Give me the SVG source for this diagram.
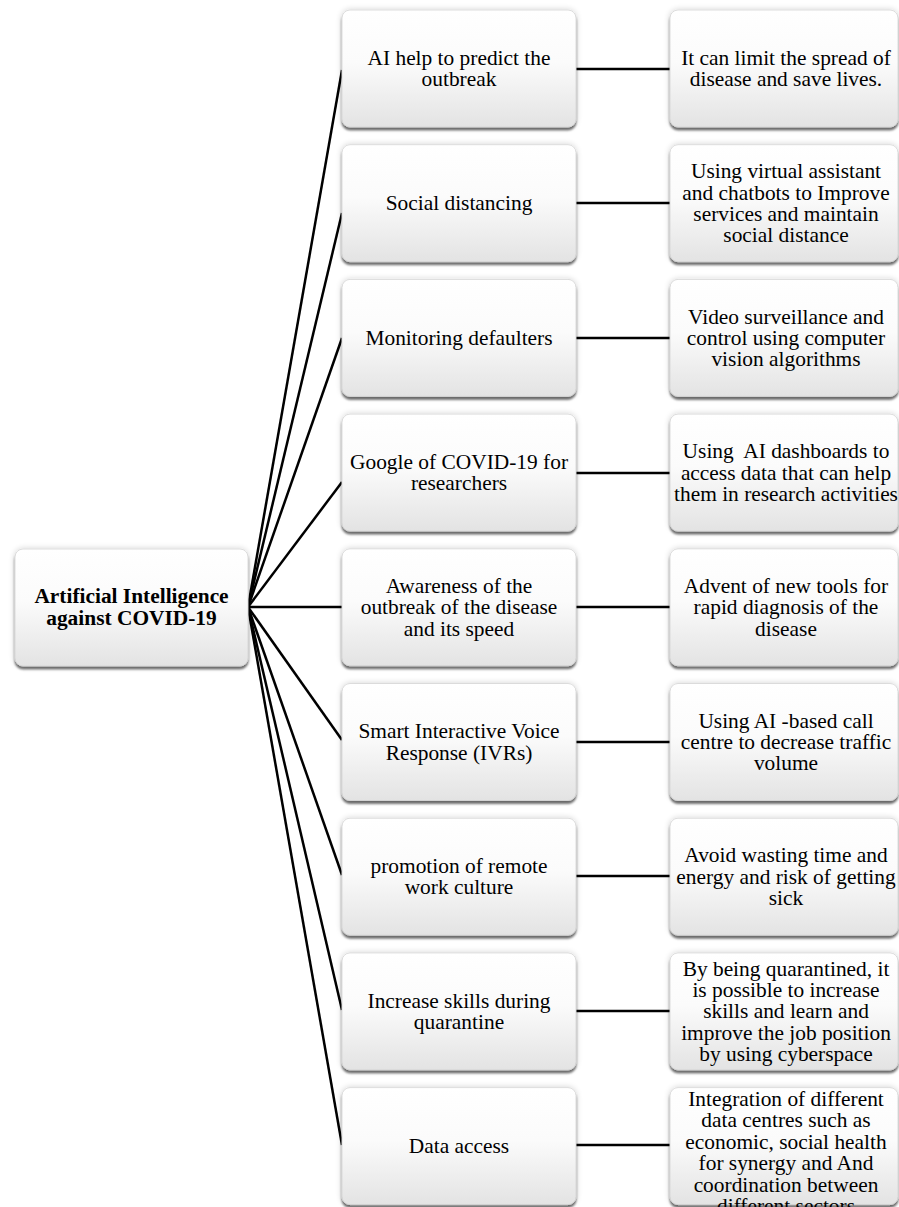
<svg xmlns="http://www.w3.org/2000/svg" width="899" height="1207" viewBox="0 0 899 1207">
<defs>
<linearGradient id="g" x1="0" y1="0" x2="0" y2="1">
<stop offset="0" stop-color="#ffffff"/>
<stop offset="0.45" stop-color="#fbfbfb"/>
<stop offset="1" stop-color="#e3e3e3"/>
</linearGradient>
<filter id="sh" x="-10%" y="-10%" width="120%" height="125%">
<feGaussianBlur in="SourceAlpha" stdDeviation="3" result="glow"/>
<feComponentTransfer in="glow" result="glow2"><feFuncA type="linear" slope="0.18"/></feComponentTransfer>
<feOffset in="SourceAlpha" dx="0" dy="3" result="off"/>
<feGaussianBlur in="off" stdDeviation="1.3" result="blur"/>
<feComponentTransfer in="blur" result="sdw"><feFuncA type="linear" slope="0.55"/></feComponentTransfer>
<feMerge><feMergeNode in="glow2"/><feMergeNode in="sdw"/><feMergeNode in="SourceGraphic"/></feMerge>
</filter>
</defs>
<style>
.box{fill:url(#g);stroke:#d4d4d4;stroke-width:0.8;filter:url(#sh)}
.t{font-family:"Liberation Serif","Times New Roman",serif;font-size:21.4px;fill:#000;text-anchor:middle}
.b{font-weight:bold}
.c{stroke:#000;stroke-width:2.5;fill:none}
</style>
<rect width="899" height="1207" fill="#fff"/>
<g id="connectors">
<line class="c" x1="248" y1="607" x2="342" y2="70"/>
<line class="c" x1="248" y1="607" x2="342" y2="213"/>
<line class="c" x1="248" y1="607" x2="342" y2="338"/>
<line class="c" x1="248" y1="607" x2="342" y2="482"/>
<line class="c" x1="248" y1="607" x2="342" y2="607"/>
<line class="c" x1="248" y1="607" x2="342" y2="740"/>
<line class="c" x1="248" y1="607" x2="342" y2="875"/>
<line class="c" x1="248" y1="607" x2="342" y2="1010"/>
<line class="c" x1="248" y1="607" x2="342" y2="1145"/>
<line class="c" x1="576" y1="69" x2="670" y2="69"/>
<line class="c" x1="576" y1="203" x2="670" y2="203"/>
<line class="c" x1="576" y1="338" x2="670" y2="338"/>
<line class="c" x1="576" y1="473" x2="670" y2="473"/>
<line class="c" x1="576" y1="607" x2="670" y2="607"/>
<line class="c" x1="576" y1="742" x2="670" y2="742"/>
<line class="c" x1="576" y1="876" x2="670" y2="876"/>
<line class="c" x1="576" y1="1011" x2="670" y2="1011"/>
<line class="c" x1="576" y1="1145" x2="670" y2="1145"/>
</g>
<g id="root">
<rect class="box" x="15" y="549" width="233" height="117" rx="8"/>
<text class="t b" x="131.5" y="603.4">Artificial Intelligence</text>
<text class="t b" x="131.5" y="624.6">against COVID-19</text>
</g>
<g id="m1"><rect class="box" x="342" y="10" width="234" height="117" rx="8"/>
<text class="t" x="459" y="64.8">AI help to predict the</text><text class="t" x="459" y="86.2">outbreak</text></g>
<g id="m2"><rect class="box" x="342" y="144.7" width="234" height="117" rx="8"/>
<text class="t" x="459" y="210.2">Social distancing</text></g>
<g id="m3"><rect class="box" x="342" y="279.4" width="234" height="117" rx="8"/>
<text class="t" x="459" y="344.9">Monitoring defaulters</text></g>
<g id="m4"><rect class="box" x="342" y="414.1" width="234" height="117" rx="8"/>
<text class="t" x="459" y="468.9">Google of COVID-19 for</text><text class="t" x="459" y="490.3">researchers</text></g>
<g id="m5"><rect class="box" x="342" y="548.8" width="234" height="117" rx="8"/>
<text class="t" x="459" y="592.9">Awareness of the</text><text class="t" x="459" y="614.3">outbreak of the disease</text><text class="t" x="459" y="635.7">and its speed</text></g>
<g id="m6"><rect class="box" x="342" y="683.5" width="234" height="117" rx="8"/>
<text class="t" x="459" y="738.3">Smart Interactive Voice</text><text class="t" x="459" y="759.7">Response (IVRs)</text></g>
<g id="m7"><rect class="box" x="342" y="818.2" width="234" height="117" rx="8"/>
<text class="t" x="459" y="873">promotion of remote</text><text class="t" x="459" y="894.4">work culture</text></g>
<g id="m8"><rect class="box" x="342" y="952.9" width="234" height="117" rx="8"/>
<text class="t" x="459" y="1007.7">Increase skills during</text><text class="t" x="459" y="1029.1">quarantine</text></g>
<g id="m9"><rect class="box" x="342" y="1087.6" width="234" height="117" rx="8"/>
<text class="t" x="459" y="1153.1">Data access</text></g>
<g id="r1"><rect class="box" x="670" y="10" width="228" height="117" rx="8"/>
<text class="t" x="786" y="64.8">It can limit the spread of</text><text class="t" x="786" y="86.2">disease and save lives.</text></g>
<g id="r2"><rect class="box" x="670" y="144.7" width="228" height="117" rx="8"/>
<text class="t" x="786" y="178.1">Using virtual assistant</text><text class="t" x="786" y="199.5">and chatbots to Improve</text><text class="t" x="786" y="220.9">services and maintain</text><text class="t" x="786" y="242.3">social distance</text></g>
<g id="r3"><rect class="box" x="670" y="279.4" width="228" height="117" rx="8"/>
<text class="t" x="786" y="323.5">Video surveillance and</text><text class="t" x="786" y="344.9">control using computer</text><text class="t" x="786" y="366.3">vision algorithms</text></g>
<g id="r4"><rect class="box" x="670" y="414.1" width="228" height="117" rx="8"/>
<text class="t" x="786" y="458.2" xml:space="preserve">Using  AI dashboards to</text><text class="t" x="786" y="479.6">access data that can help</text><text class="t" x="786" y="501">them in research activities</text></g>
<g id="r5"><rect class="box" x="670" y="548.8" width="228" height="117" rx="8"/>
<text class="t" x="786" y="592.9">Advent of new tools for</text><text class="t" x="786" y="614.3">rapid diagnosis of the</text><text class="t" x="786" y="635.7">disease</text></g>
<g id="r6"><rect class="box" x="670" y="683.5" width="228" height="117" rx="8"/>
<text class="t" x="786" y="727.6">Using AI -based call</text><text class="t" x="786" y="749">centre to decrease traffic</text><text class="t" x="786" y="770.4">volume</text></g>
<g id="r7"><rect class="box" x="670" y="818.2" width="228" height="117" rx="8"/>
<text class="t" x="786" y="862.3">Avoid wasting time and</text><text class="t" x="786" y="883.7">energy and risk of getting</text><text class="t" x="786" y="905.1">sick</text></g>
<g id="r8"><rect class="box" x="670" y="952.9" width="228" height="117" rx="8"/>
<text class="t" x="786" y="975.6">By being quarantined, it</text><text class="t" x="786" y="997">is possible to increase</text><text class="t" x="786" y="1018.4">skills and learn and</text><text class="t" x="786" y="1039.8">improve the job position</text><text class="t" x="786" y="1061.2">by using cyberspace</text></g>
<g id="r9"><rect class="box" x="670" y="1087.6" width="228" height="117" rx="8"/>
<text class="t" x="786" y="1106">Integration of different</text><text class="t" x="786" y="1127.4">data centres such as</text><text class="t" x="786" y="1148.8">economic, social health</text><text class="t" x="786" y="1170.2">for synergy and And</text><text class="t" x="786" y="1191.6">coordination between</text><text class="t" x="786" y="1213">different sectors</text></g>
</svg>
